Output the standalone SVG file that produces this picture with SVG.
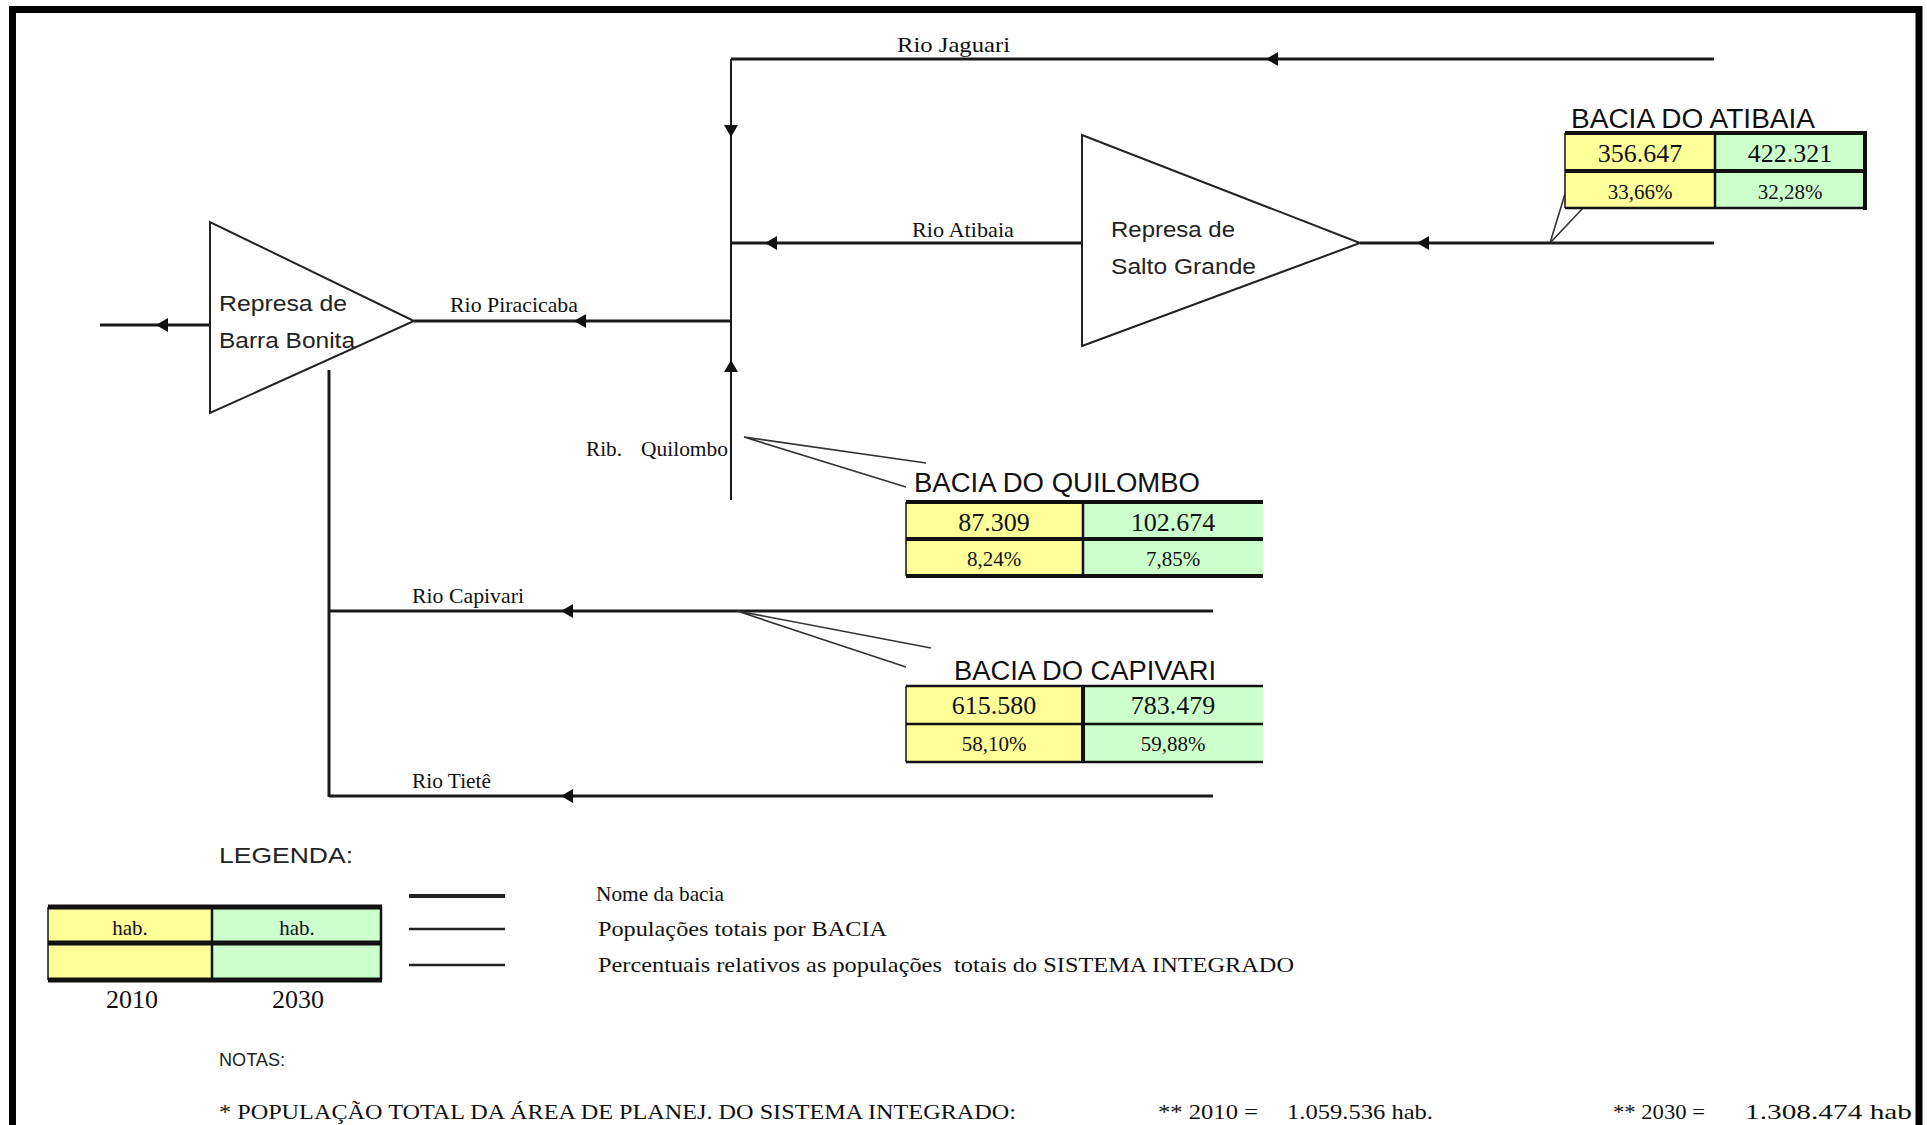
<svg xmlns="http://www.w3.org/2000/svg" width="1927" height="1125" viewBox="0 0 1927 1125">
<defs>
<style>
.river{fill:none;stroke:#1a1a1a;stroke-width:3;marker-mid:url(#arr)}
.plain{fill:none;stroke:#1a1a1a;stroke-width:3}
.thin{fill:none;stroke:#1a1a1a;stroke-width:2}
.call{fill:none;stroke:#333;stroke-width:1.6}
.tri{fill:#fff;stroke:#222;stroke-width:2}
.lbl{font-family:"Liberation Serif","Times New Roman",serif;font-size:21px;fill:#111}
.sans{font-family:"Liberation Sans",Arial,sans-serif;fill:#222}
.ttl{font-family:"Liberation Sans",Arial,sans-serif;font-size:27px;fill:#111}
.num{font-family:"Liberation Serif","Times New Roman",serif;font-size:26px;fill:#111;text-anchor:middle}
.pct{font-family:"Liberation Serif","Times New Roman",serif;font-size:21px;fill:#111;text-anchor:middle}
.y{fill:#FFFF99}
.g{fill:#CCFFCC}
.hk{stroke:#111;stroke-width:4}
.hm{stroke:#111;stroke-width:2.5}
.vt{stroke:#111;stroke-width:1.5}
</style>
<marker id="arr" markerUnits="userSpaceOnUse" markerWidth="14" markerHeight="16" viewBox="0 -8 14 16" refX="12" refY="0" orient="auto">
<path d="M0,-7 L12,0 L0,7 z" fill="#111"/>
</marker>
</defs>
<rect x="0" y="0" width="1927" height="1125" fill="#fff"/>
<rect id="frame" x="12.5" y="9.5" width="1906.5" height="1200" fill="none" stroke="#000" stroke-width="7"/>

<g id="connectors">
<path class="river" d="M1714,59 L1266,59 L731,59"/>
<path class="thin" d="M731,59 L731,137 L731,500" style="marker-mid:url(#arr)"/>
<path class="river" d="M1714,243 L1417,243 L1360,243"/>
<path class="river" d="M1082,243 L765,243 L731,243"/>
<path class="river" d="M731,321 L574,321 L414,321"/>
<path class="thin" d="M731,500 L731,360 L731,321" style="marker-mid:url(#arr)"/>
<path class="river" d="M210,325 L156,325 L100,325"/>
<path class="plain" d="M329,370 L329,797"/>
<path class="river" d="M1213,611 L561,611 L329,611"/>
<path class="river" d="M1213,796 L561,796 L329,796"/>
<path class="call" d="M1565,194 L1550,243 L1583,208"/>
<path class="call" d="M926,463 L744,437 L906,487"/>
<path class="call" d="M931,648 L737,611 L906,667"/>
</g>

<g id="represa-barra-bonita">
<polygon class="tri" points="210,222 210,413 414,321"/>
<text class="sans" x="219" y="311" font-size="22" textLength="128" lengthAdjust="spacingAndGlyphs">Represa de</text>
<text class="sans" x="219" y="348" font-size="22" textLength="136" lengthAdjust="spacingAndGlyphs">Barra Bonita</text>
</g>

<g id="represa-salto-grande">
<polygon class="tri" points="1082,135 1082,346 1360,243"/>
<text class="sans" x="1111" y="237" font-size="22" textLength="124" lengthAdjust="spacingAndGlyphs">Represa de</text>
<text class="sans" x="1111" y="274" font-size="22" textLength="145" lengthAdjust="spacingAndGlyphs">Salto Grande</text>
</g>

<g id="river-labels">
<text class="lbl" x="897" y="52" textLength="113" lengthAdjust="spacingAndGlyphs">Rio Jaguari</text>
<text class="lbl" x="912" y="237" textLength="102" lengthAdjust="spacingAndGlyphs">Rio Atibaia</text>
<text class="lbl" x="450" y="312" textLength="128" lengthAdjust="spacingAndGlyphs">Rio Piracicaba</text>
<text class="lbl" x="586" y="456" textLength="36" lengthAdjust="spacingAndGlyphs">Rib.</text>
<text class="lbl" x="641" y="456" textLength="87" lengthAdjust="spacingAndGlyphs">Quilombo</text>
<text class="lbl" x="412" y="603" textLength="112" lengthAdjust="spacingAndGlyphs">Rio Capivari</text>
<text class="lbl" x="412" y="788" textLength="79" lengthAdjust="spacingAndGlyphs">Rio Tietê</text>
</g>

<g id="bacia-atibaia">
<text class="ttl" x="1571" y="128" textLength="244" lengthAdjust="spacingAndGlyphs">BACIA DO ATIBAIA</text>
<rect class="y" x="1565" y="133" width="150" height="75"/>
<rect class="g" x="1715" y="133" width="150" height="75"/>
<line class="hk" x1="1565" y1="133" x2="1867" y2="133"/>
<line class="hk" x1="1565" y1="171" x2="1867" y2="171"/>
<line class="hm" x1="1565" y1="208" x2="1867" y2="208"/>
<line class="vt" x1="1565" y1="133" x2="1565" y2="208"/>
<line class="hm" x1="1715" y1="133" x2="1715" y2="208"/>
<line class="hk" x1="1865" y1="131" x2="1865" y2="210"/>
<text class="num" x="1640" y="162">356.647</text>
<text class="num" x="1790" y="162">422.321</text>
<text class="pct" x="1640" y="199">33,66%</text>
<text class="pct" x="1790" y="199">32,28%</text>
</g>

<g id="bacia-quilombo">
<text class="ttl" x="914" y="492" textLength="286" lengthAdjust="spacingAndGlyphs">BACIA DO QUILOMBO</text>
<rect class="y" x="906" y="502" width="177" height="74"/>
<rect class="g" x="1083" y="502" width="180" height="74"/>
<line class="hk" x1="906" y1="502" x2="1263" y2="502"/>
<line class="hk" x1="906" y1="539" x2="1263" y2="539"/>
<line class="hk" x1="906" y1="576" x2="1263" y2="576"/>
<line class="vt" x1="906" y1="502" x2="906" y2="576"/>
<line class="hm" x1="1083" y1="502" x2="1083" y2="576"/>
<text class="num" x="994" y="531">87.309</text>
<text class="num" x="1173" y="531">102.674</text>
<text class="pct" x="994" y="566">8,24%</text>
<text class="pct" x="1173" y="566">7,85%</text>
</g>

<g id="bacia-capivari">
<text class="ttl" x="954" y="680" textLength="262" lengthAdjust="spacingAndGlyphs">BACIA DO CAPIVARI</text>
<rect class="y" x="906" y="686" width="177" height="76"/>
<rect class="g" x="1083" y="686" width="180" height="76"/>
<line class="hm" x1="906" y1="686" x2="1263" y2="686"/>
<line class="hm" x1="906" y1="724" x2="1263" y2="724"/>
<line class="hm" x1="906" y1="762" x2="1263" y2="762"/>
<line class="vt" x1="906" y1="686" x2="906" y2="762"/>
<line class="hk" x1="1083" y1="686" x2="1083" y2="762"/>
<text class="num" x="994" y="714">615.580</text>
<text class="num" x="1173" y="714">783.479</text>
<text class="pct" x="994" y="751">58,10%</text>
<text class="pct" x="1173" y="751">59,88%</text>
</g>

<g id="legenda">
<text class="sans" x="219" y="863" font-size="22" textLength="134" lengthAdjust="spacingAndGlyphs">LEGENDA:</text>
<rect class="y" x="48" y="907" width="164" height="73"/>
<rect class="g" x="212" y="907" width="169" height="73"/>
<line x1="48" y1="907" x2="382" y2="907" stroke="#111" stroke-width="5"/>
<line x1="48" y1="943" x2="382" y2="943" stroke="#111" stroke-width="5"/>
<line x1="48" y1="980" x2="382" y2="980" stroke="#111" stroke-width="5"/>
<line class="vt" x1="48" y1="907" x2="48" y2="980"/>
<line class="hm" x1="212" y1="907" x2="212" y2="980"/>
<line class="hm" x1="381" y1="907" x2="381" y2="980"/>
<text class="pct" x="130" y="935" font-size="22">hab.</text>
<text class="pct" x="297" y="935" font-size="22">hab.</text>
<text class="num" x="132" y="1008" font-size="25">2010</text>
<text class="num" x="298" y="1008" font-size="25">2030</text>
<line x1="409" y1="896" x2="505" y2="896" stroke="#222" stroke-width="4"/>
<line x1="409" y1="929" x2="505" y2="929" stroke="#222" stroke-width="2.5"/>
<line x1="409" y1="965" x2="505" y2="965" stroke="#222" stroke-width="2.5"/>
<text class="lbl" x="596" y="901" font-size="22" textLength="128" lengthAdjust="spacingAndGlyphs">Nome da bacia</text>
<text class="lbl" x="598" y="936" font-size="20" textLength="289" lengthAdjust="spacingAndGlyphs">Populações totais por BACIA</text>
<text class="lbl" x="598" y="972" font-size="20" textLength="696" lengthAdjust="spacingAndGlyphs" xml:space="preserve">Percentuais relativos as populações  totais do SISTEMA INTEGRADO</text>
</g>

<g id="notas">
<text class="sans" x="219" y="1066" font-size="18" textLength="66" lengthAdjust="spacingAndGlyphs">NOTAS:</text>
<text class="lbl" x="219" y="1119" font-size="22" textLength="797" lengthAdjust="spacingAndGlyphs">* POPULAÇÃO TOTAL DA ÁREA DE PLANEJ. DO SISTEMA INTEGRADO:</text>
<text class="lbl" x="1158" y="1119" font-size="22" textLength="100" lengthAdjust="spacingAndGlyphs">** 2010 =</text>
<text class="lbl" x="1287" y="1119" font-size="22" textLength="146" lengthAdjust="spacingAndGlyphs">1.059.536 hab.</text>
<text class="lbl" x="1613" y="1119" font-size="22" textLength="92" lengthAdjust="spacingAndGlyphs">** 2030 =</text>
<text class="lbl" x="1745" y="1119" font-size="22" textLength="167" lengthAdjust="spacingAndGlyphs">1.308.474 hab</text>
</g>
</svg>
